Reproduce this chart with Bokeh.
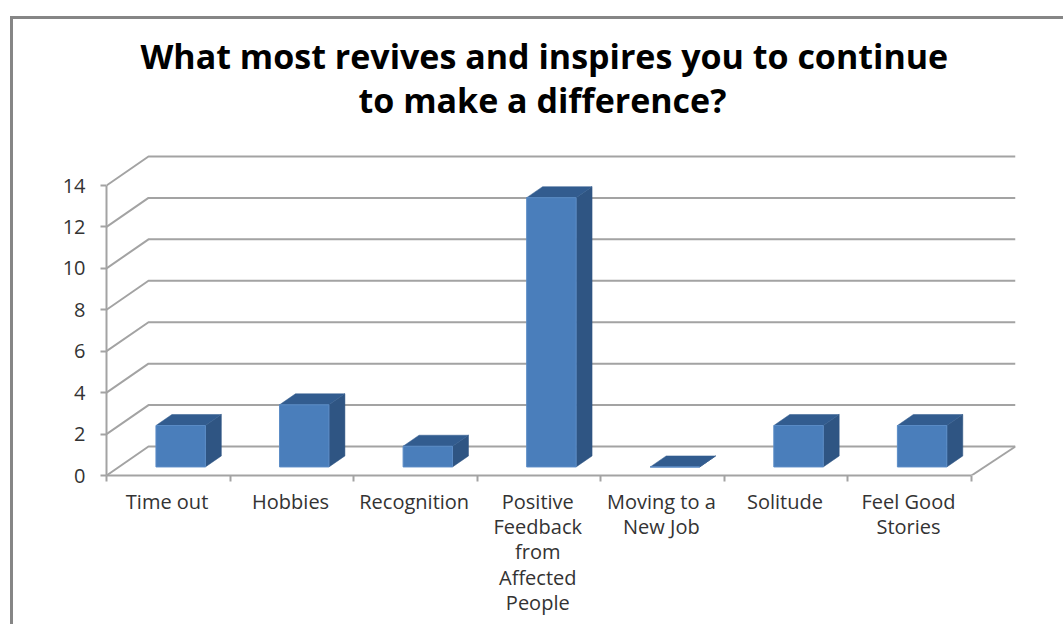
from bokeh.plotting import figure
from bokeh.models import Range1d, FixedTicker, Title
from bokeh.embed import file_html
from bokeh.resources import INLINE

title_lines = ["What most revives and inspires you to continue", "to make a difference?"]
categories = ["Time out", "Hobbies", "Recognition",
              "Positive\nFeedback\nfrom\nAffected\nPeople",
              "Moving to a\nNew Job", "Solitude", "Feel Good\nStories"]
values = [2, 3, 1, 13, 0, 2, 2]
y_ticks = [0, 2, 4, 6, 8, 10, 12, 14]

FRONT = "#4a7ebb"
SIDE = "#2f5583"
TOP = "#325c8f"
GRID = "#a3a3a3"
TEXT = "#333333"
FRAME = "#868686"
UX = 123.6                # pixels per category
UY = 20.71                # pixels per value unit
DEPTH_X = 42 / UX         # wall depth at the left
DEPTH_XR = 44 / UX        # floor depth at the right
DEPTH_Y = 29 / UY         # wall depth, in value units
HEAD = 34 / UY            # free room above the back wall, under the title
F0, F1 = 0.295, 0.675     # bar front and back as fractions of the depth
BAR_W = 0.40
N = len(categories)

p = figure(width=1063, height=624, output_backend="svg", toolbar_location=None,
           x_range=Range1d(0, N + DEPTH_XR), y_range=Range1d(0, 14 + DEPTH_Y + HEAD),
           min_border_left=106, min_border_right=48, min_border_top=122, min_border_bottom=149,
           background_fill_color=None, border_fill_color=None)
p.outline_line_color = None
p.grid.visible = False
p.styles = {
    "background-color": "white",
    "background-image": f"linear-gradient({FRAME},{FRAME}), linear-gradient({FRAME},{FRAME})",
    "background-repeat": "no-repeat",
    "background-size": "3px 100%, 100% 3px",
    "background-position": "10px 16px, 10px 16px",
}

p.add_layout(Title(text=title_lines[1], align="left", offset=252, text_font="Open Sans", text_font_size="34px",
                   text_font_style="bold", text_color="#000000", standoff=0), "above")
p.add_layout(Title(text=title_lines[0], align="left", offset=34, text_font="Open Sans", text_font_size="34px",
                   text_font_style="bold", text_color="#000000", standoff=-8), "above")

# axes
xa, ya = p.xaxis[0], p.yaxis[0]
label_pos = [i + 0.49 for i in range(N)]
xa.ticker = FixedTicker(ticks=label_pos, minor_ticks=list(range(N + 1)))
xa.major_label_overrides = dict(zip(label_pos, categories))
xa.bounds = (0, N)
xa.major_tick_line_color = None
xa.minor_tick_out = 6
xa.minor_tick_in = 0
xa.minor_tick_line_color = GRID
xa.minor_tick_line_width = 2
xa.axis_line_color = GRID
xa.axis_line_width = 2
xa.major_label_standoff = 6
xa.major_label_orientation = "horizontal"
xa.major_label_text_font = "Open Sans"
xa.major_label_text_font_size = "20px"
xa.major_label_text_color = TEXT
xa.major_label_text_line_height = 0.94

ya.ticker = FixedTicker(ticks=y_ticks)
ya.bounds = (0, 14)
ya.major_tick_out = 6
ya.major_tick_in = 0
ya.major_tick_line_color = GRID
ya.major_tick_line_width = 2
ya.minor_tick_line_color = None
ya.axis_line_color = GRID
ya.axis_line_width = 2
ya.major_label_standoff = 15
ya.major_label_text_font = "Open Sans"
ya.major_label_text_font_size = "20px"
ya.major_label_text_color = TEXT

# wall and floor lines
gx = [[0, DEPTH_X, N + DEPTH_XR] for _ in y_ticks]
gy = [[v, v + DEPTH_Y, v + DEPTH_Y] for v in y_ticks]
p.multi_line(gx, gy, line_color=GRID, line_width=2)
p.line([N, N + DEPTH_XR], [0, DEPTH_Y], line_color=GRID, line_width=2)

# 3-D bars
centers = [i + 0.5 + F0 * DEPTH_X for i in range(N)]
dx = (F1 - F0) * DEPTH_X
dy = (F1 - F0) * DEPTH_Y
y0 = F0 * DEPTH_Y
left = [c - BAR_W / 2 for c in centers]
right = [c + BAR_W / 2 for c in centers]
top = [v + y0 for v in values]

p.patches([[r, r + dx, r + dx, r] for r, t in zip(right, top)],
          [[y0, y0 + dy, t + dy, t] for t in top],
          fill_color=SIDE, line_color=SIDE, line_width=0.5)
p.patches([[l, r, r + dx, l + dx] for l, r in zip(left, right)],
          [[t, t, t + dy, t + dy] for t in top],
          fill_color=TOP, line_color=TOP, line_width=0.5)
p.vbar(x=centers, width=BAR_W, bottom=y0, top=top, fill_color=FRONT, line_color="#5b8cc6", line_width=1)

open("out.html", "w").write(file_html(p, INLINE))
